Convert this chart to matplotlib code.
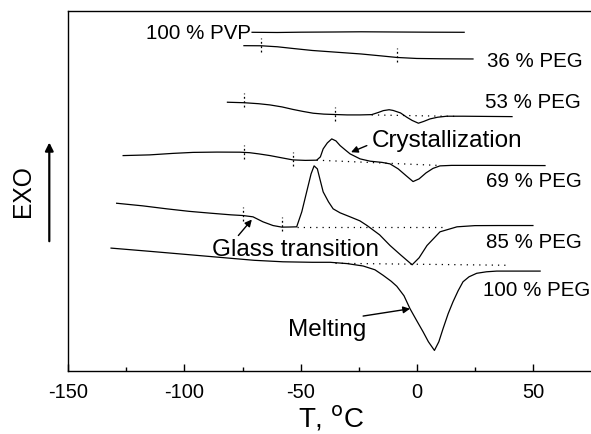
import matplotlib
matplotlib.use("Agg")
import matplotlib.pyplot as plt

plt.rcParams['font.family'] = ['Liberation Sans', 'DejaVu Sans']
plt.rcParams['axes.unicode_minus'] = False

# DSC traces: temperature (deg C) and heat flow (arbitrary units, offset per sample)
pvp_t = [-70.9, -60, -50, -35, -24, -10, 5, 20.4]
pvp_y = [33.87, 33.85, 33.88, 33.9, 33.92, 33.9, 33.88, 33.87]

peg36_t = [-74.4, -67, -60, -53.3, -45, -36, -24, -15, -8.5, 0, 10, 24.2]
peg36_y = [32.53, 32.52, 32.42, 32.25, 32.05, 31.9, 31.7, 31.5, 31.35, 31.25, 31.22, 31.2]

peg53_t = [-81.5, -74.2, -68, -63.2, -58, -53.3, -49, -44.6, -40, -35.2, -30, -24.4,
           -19.4, -16.5, -14.4, -11.9, -10.2, -7, -4.3, -2, 0.7, 3, 5.7, 9, 12.9, 20, 30, 41]
peg53_y = [26.87, 26.82, 26.72, 26.6, 26.4, 26.15, 25.95, 25.77, 25.68, 25.64, 25.6, 25.6,
           25.63, 25.85, 26.03, 26.12, 26.05, 25.8, 25.37, 25.05, 24.77, 24.95, 25.2, 25.37,
           25.47, 25.47, 25.45, 25.43]

peg69_t = [-126.4, -115, -105, -96.3, -86, -76.1, -72, -68, -63.2, -58, -53.4, -48, -43.1,
           -41.5, -40.3, -38.5, -36.6, -34.8, -33, -30.8, -28.7, -24.4, -20.1, -15, -11.5,
           -8, -4.5, -1.6, 1, 4, 7, 10, 15, 30, 55.2]
peg69_y = [21.53, 21.6, 21.75, 21.85, 21.88, 21.87, 21.82, 21.7, 21.53, 21.3, 21.1, 21.05,
           21.07, 21.4, 22.2, 22.8, 23.2, 23.0, 22.53, 22.1, 21.7, 21.2, 20.97, 20.85, 20.7,
           20.2, 19.5, 18.93, 19.2, 19.8, 20.25, 20.5, 20.55, 20.55, 20.53]

peg85_t = [-129.2, -118, -107.6, -98, -89, -80, -74.8, -70.5, -66.2, -61.9, -58.1, -55,
           -51.7, -49.5, -47.4, -45.5, -44.2, -42.8, -41.5, -40.3, -38, -36, -33, -28.7,
           -24.5, -21.4, -16, -11.5, -7, -2, 1, 4.4, 10, 17.3, 25, 35, 50]
peg85_y = [16.76, 16.5, 16.2, 15.95, 15.77, 15.6, 15.53, 15.4, 14.9, 14.53, 14.37, 14.38,
           14.4, 15.9, 17.9, 19.7, 20.5, 20.2, 19.0, 17.9, 16.9, 16.2, 15.8, 15.4, 15.0,
           14.53, 13.6, 12.53, 11.6, 10.6, 11.3, 12.53, 13.9, 14.4, 14.52, 14.53, 14.53]

peg100_t = [-131.6, -115, -100, -85, -70, -57.6, -45, -37.3, -30, -23.1, -18, -14.5, -11,
            -8.6, -5.5, -2.9, 0, 2.7, 5, 7.6, 9.5, 11.3, 13.5, 15.6, 17.8, 19.9, 22.5, 25.8,
            30, 34.4, 45, 53.1]
peg100_y = [12.27, 11.95, 11.65, 11.35, 11.05, 10.9, 10.85, 10.85, 10.72, 10.48, 10.1, 9.55,
            8.95, 8.45, 7.5, 6.2, 5.0, 3.9, 2.9, 2.03, 2.9, 4.2, 5.7, 6.9, 8.0, 8.9, 9.4, 9.75,
            9.9, 9.97, 9.97, 9.97]

curves = [(pvp_t, pvp_y), (peg36_t, peg36_y), (peg53_t, peg53_y),
          (peg69_t, peg69_y), (peg85_t, peg85_y), (peg100_t, peg100_y)]

# dotted integration baselines: (t0, t1, y0, y1)
baselines = [(-19.4, 17, 25.6, 25.45),
             (-43.1, 9, 21.07, 20.55),
             (-51.7, 12, 14.4, 14.4),
             (-35, 40, 10.75, 10.55)]

# onset / end marks of the glass transition: (t, y centre)
tg_marks = [(-67.2, 32.6), (-8.3, 31.6), (-74.2, 27.05), (-35.2, 25.7),
            (-74.4, 21.9), (-53.4, 21.15), (-74.8, 15.7), (-58.1, 14.7)]

sample_labels = ['36 % PEG', '53 % PEG', '69 % PEG', '85 % PEG', '100 % PEG']
label_t = [30.3, 29.4, 29.8, 29.8, 28.5]
label_y = [30.53, 26.37, 18.53, 12.37, 7.53]

fig = plt.figure(figsize=(5.91, 4.35), dpi=100)
ax = fig.add_axes([0.1156, 0.1455, 0.8844, 0.8269])

for t, y in curves:
    ax.plot(t, y, color='black', lw=0.9)

for t0, t1, y0, y1 in baselines:
    ax.plot([t0, t1], [y0, y1], color='black', lw=0.9, ls=(0, (1, 4)))

for t, yc in tg_marks:
    ax.plot([t, t], [yc - 0.7, yc + 0.7], color='black', lw=0.9, ls=(0, (1.5, 2)))

ax.text(-71.3, 33.3, '100 % PVP', fontsize=14.8, ha='right', va='baseline')
for s, t, y in zip(sample_labels, label_t, label_y):
    ax.text(t, y, s, fontsize=14.8, ha='left', va='baseline')

ax.text(-19.3, 22.53, 'Crystallization', fontsize=17.5, va='baseline')
ax.text(-88.3, 11.6, 'Glass transition', fontsize=17.5, va='baseline')
ax.text(-55.4, 3.53, 'Melting', fontsize=17.5, va='baseline')

arr = dict(arrowstyle='-|>', color='black', lw=1.0, mutation_scale=10, shrinkA=0, shrinkB=0)
ax.annotate('', xy=(-28.3, 21.87), xytext=(-21.5, 22.53), arrowprops=arr)
ax.annotate('', xy=(-71.0, 15.13), xytext=(-76.8, 13.53), arrowprops=arr)
ax.annotate('', xy=(-2.9, 6.2), xytext=(-23.1, 5.47), arrowprops=arr)

ax.set_xlim(-150, 75)
ax.set_ylim(0, 36)
ax.set_xticks([-150, -100, -50, 0, 50])
ax.set_xticks([-125, -75, -25, 25], minor=True)
ax.set_yticks([])
ax.tick_params(axis='x', which='major', direction='in', length=5, width=1, labelsize=14.4, pad=8)
ax.tick_params(axis='x', which='minor', direction='in', length=3, width=1)
ax.spines['right'].set_visible(False)
for sp in ['left', 'top', 'bottom']:
    ax.spines[sp].set_linewidth(1.0)

fig.text(331 / 591, 1 - 428 / 435, 'T, $^{\\rm o}$C', fontsize=20, ha='center', va='baseline')
fig.text(23 / 591, 1 - 191 / 435, 'EXO', fontsize=17.7, rotation=90, ha='center', va='center')
fig.patches.append(matplotlib.patches.FancyArrowPatch(
    (49.3 / 591, 1 - 245 / 435), (49.3 / 591, 1 - 140.7 / 435),
    transform=fig.transFigure, arrowstyle='-|>', mutation_scale=12, lw=1.6, color='black'))

fig.savefig('out.png', dpi=100)
